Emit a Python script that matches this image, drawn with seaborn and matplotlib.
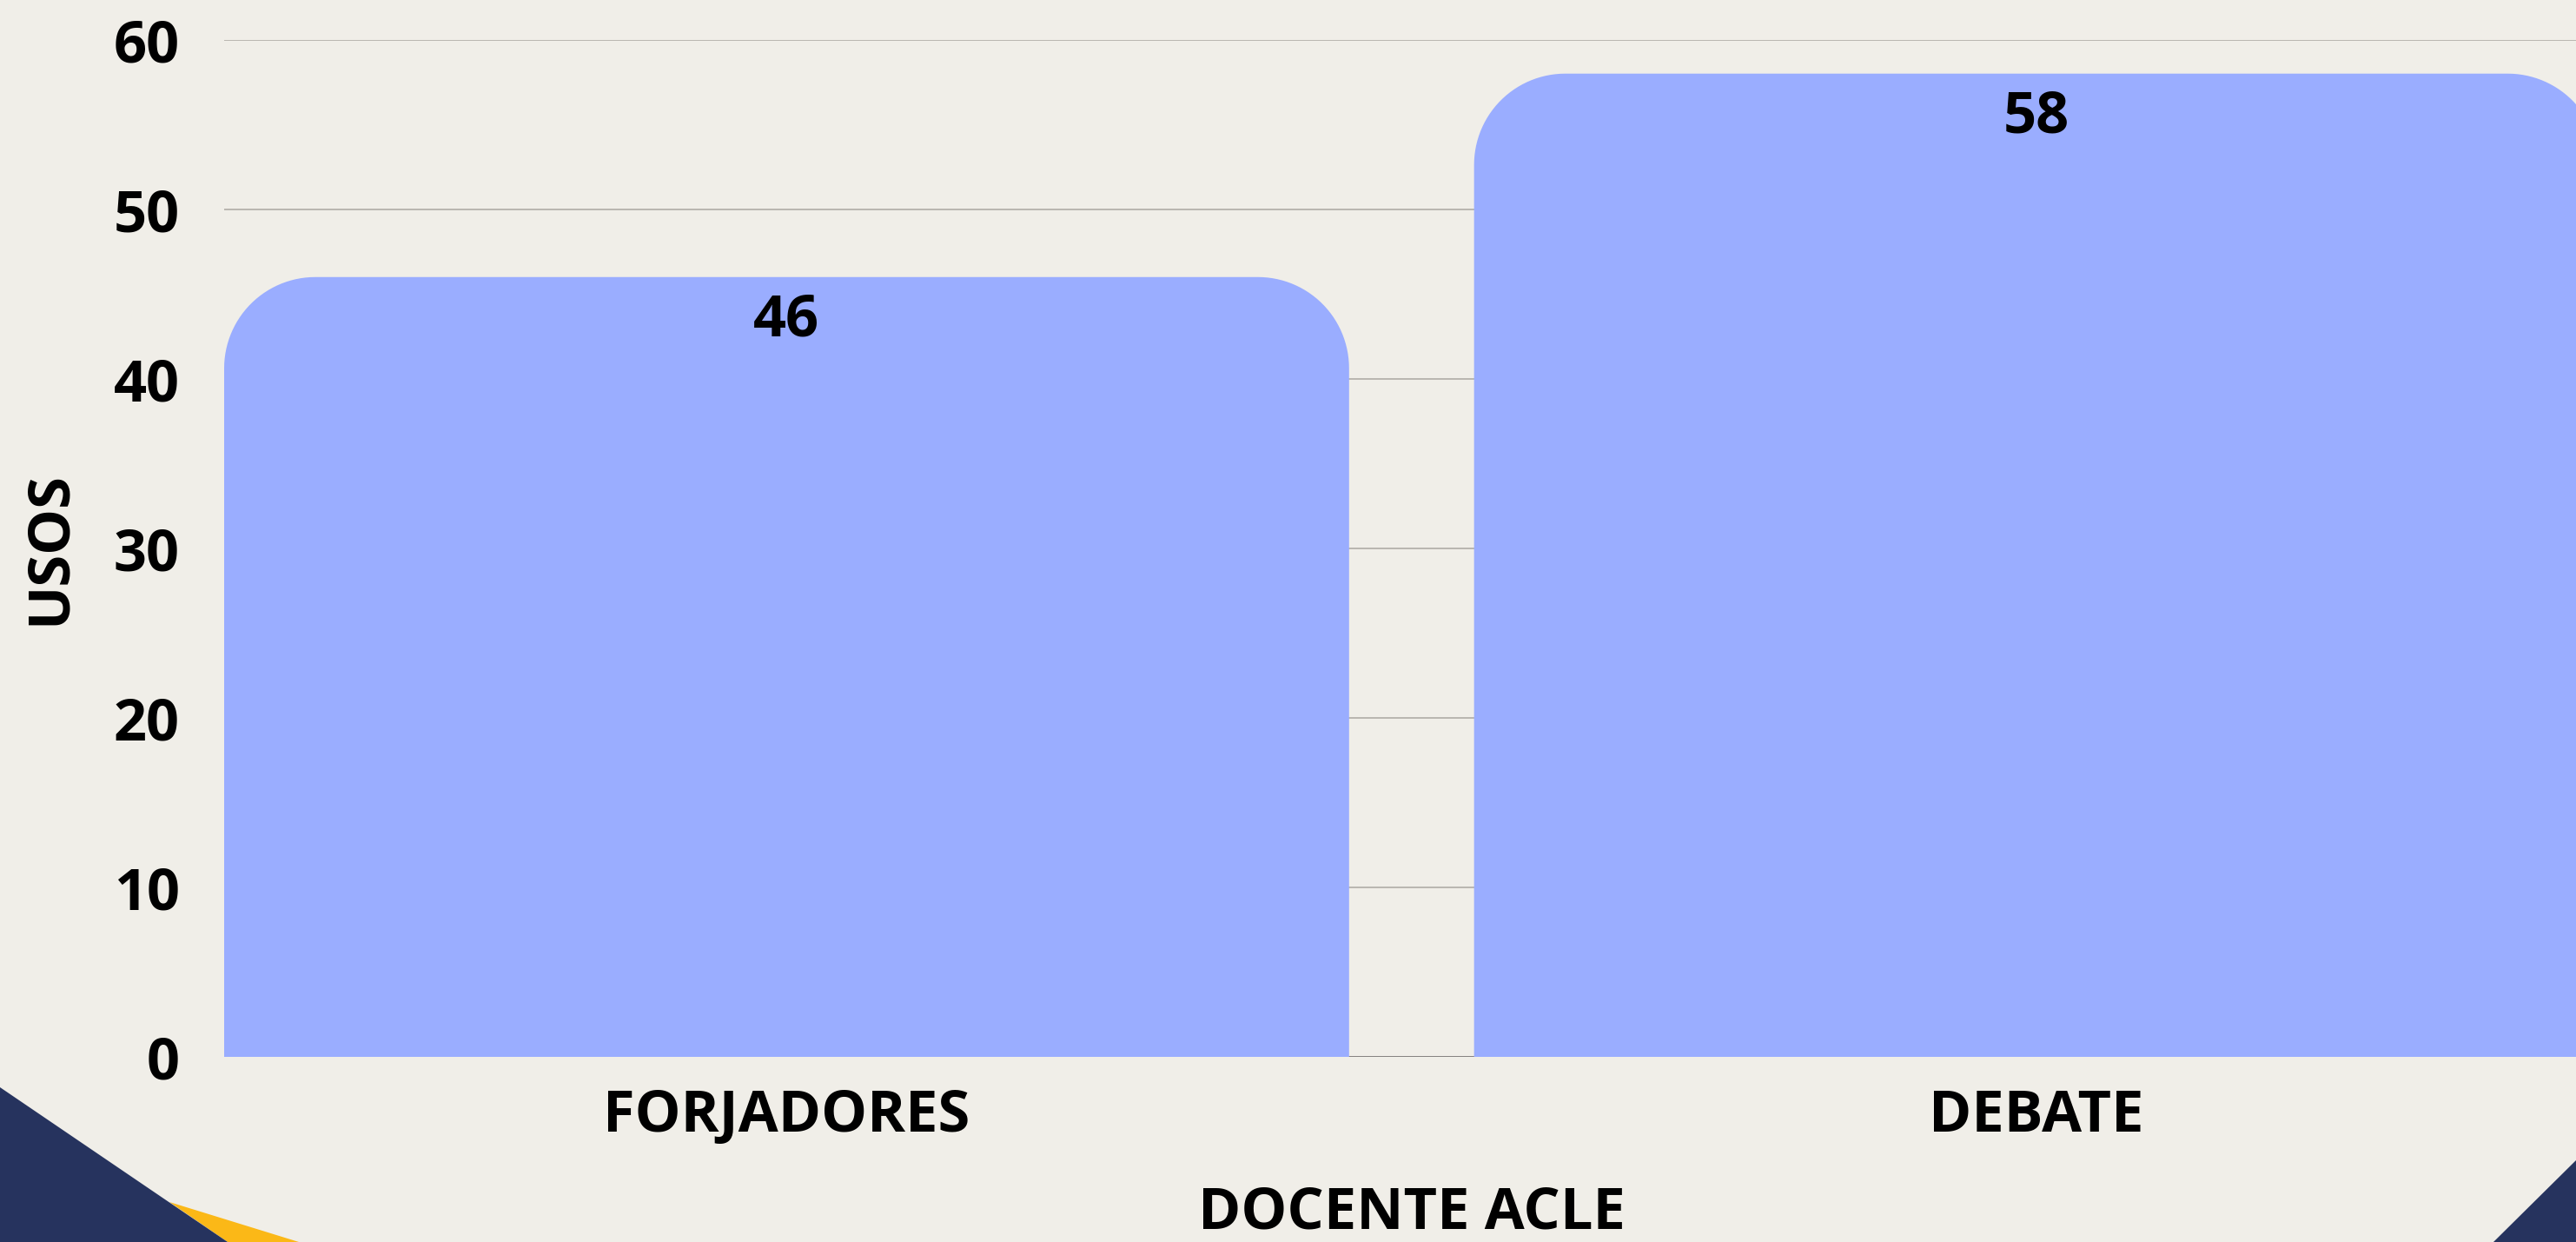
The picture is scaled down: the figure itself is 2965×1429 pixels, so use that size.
import numpy as np
import pandas as pd
import matplotlib
matplotlib.use("Agg")
import matplotlib.pyplot as plt
from matplotlib.patches import Polygon
import seaborn as sns

# data
categories = ["FORJADORES", "DEBATE"]
usos = [46, 58]
y_ticks = [0, 10, 20, 30, 40, 50, 60]

BG = "#f0eee8"
BAR = "#9aadff"
NAVY = "#26335e"
YELLOW = "#fbb817"

W, H = 2965, 1429
DPI = 100
FS = 48

sns.set_theme(style="white")
plt.rcParams["font.family"] = ["Open Sans", "DejaVu Sans"]
plt.rcParams["font.weight"] = "bold"
plt.rcParams["text.color"] = "black"
plt.rcParams["xtick.color"] = "black"
plt.rcParams["ytick.color"] = "black"
plt.rcParams["axes.labelcolor"] = "black"

fig = plt.figure(figsize=(W / DPI, H / DPI), dpi=DPI, facecolor=BG)

# axes placed in pixel terms of the reference
left_px, right_px, top_px, bottom_px = 258, 2965, 45.7, 1216
ax = fig.add_axes([left_px / W, 1 - bottom_px / H,
                   (right_px - left_px) / W, (bottom_px - top_px) / H])
ax.set_facecolor(BG)

df = pd.DataFrame({"docente": categories, "usos": usos})
sns.barplot(data=df, x="docente", y="usos", color=BAR, width=0.9,
            saturation=1, ax=ax, zorder=3)

ax.set_ylim(0, 60)
ax.set_xlim(-0.45, 1.4316)
ax.set_yticks(y_ticks)

# grid lines
for t in y_ticks:
    ax.axhline(t, color="#7a7775" if t == 0 else "#b9b6b0", lw=2 if t == 0 else 1.4, zorder=1)

for s in ax.spines.values():
    s.set_visible(False)
ax.tick_params(axis="both", length=0, labelsize=FS, labelcolor="black")
ax.tick_params(axis="y", pad=37)
ax.tick_params(axis="x", pad=25)
for lbl in ax.get_xticklabels() + ax.get_yticklabels():
    lbl.set_fontweight("bold")

# rounded top corners on bars
fig.canvas.draw()
px_per_x = ax.transData.transform((1, 0))[0] - ax.transData.transform((0, 0))[0]
px_per_y = ax.transData.transform((0, 1))[1] - ax.transData.transform((0, 0))[1]
r_px = 105
rx, ry = r_px / px_per_x, r_px / px_per_y
theta = np.linspace(0, np.pi / 2, 30)
for p in list(ax.patches):
    x0, w, h = p.get_x(), p.get_width(), p.get_height()
    x1 = x0 + w
    pts = [(x0, 0)]
    # top-left arc
    pts += [(x0 + rx - rx * np.cos(t), h - ry + ry * np.sin(t)) for t in theta]
    # top-right arc
    pts += [(x1 - rx + rx * np.sin(t), h - ry + ry * np.cos(t)) for t in theta]
    pts += [(x1, 0)]
    ax.add_patch(Polygon(pts, closed=True, facecolor=BAR, edgecolor="none", zorder=3))
    p.set_visible(False)
    ax.annotate(f"{int(h)}", (x0 + w / 2, h), xytext=(0, -36), textcoords="offset points",
                ha="center", va="center", fontsize=FS, fontweight="bold", color="black", zorder=4)

ax.set_xlabel("DOCENTE ACLE", fontsize=FS, fontweight="bold", color="black")
ax.xaxis.set_label_coords((1625 - left_px) / (right_px - left_px),
                          (bottom_px - 1396) / (bottom_px - top_px))
ax.xaxis.label.set_verticalalignment("center")
ax.set_ylabel("USOS", fontsize=FS, fontweight="bold", color="black")
ax.yaxis.set_label_coords((57 - left_px) / (right_px - left_px), 0.5)
ax.yaxis.label.set_verticalalignment("center")

# corner decorations
def px(pts):
    return [(x / W, 1 - y / H) for x, y in pts]

fig.patches.append(Polygon(px([(195, 1383), (344, 1429), (262, 1429)]), closed=True,
                           transform=fig.transFigure, facecolor=YELLOW, edgecolor="none", zorder=5))
fig.patches.append(Polygon(px([(0, 1251), (262, 1429), (0, 1429)]), closed=True,
                           transform=fig.transFigure, facecolor=NAVY, edgecolor="none", zorder=6))
fig.patches.append(Polygon(px([(2965, 1335), (2870, 1429), (2965, 1429)]), closed=True,
                           transform=fig.transFigure, facecolor=NAVY, edgecolor="none", zorder=6))

fig.savefig("out.png", dpi=DPI, facecolor=BG)
